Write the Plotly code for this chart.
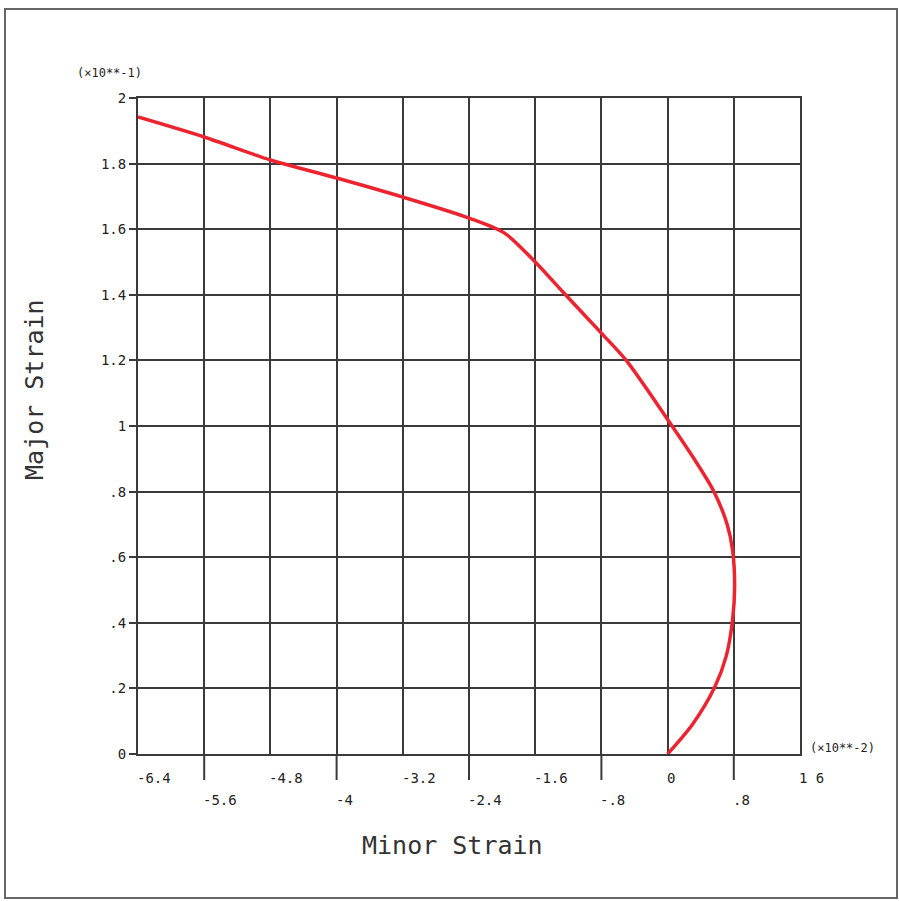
import plotly.graph_objects as go

# Data (minor strain x10^-2, major strain x10^-1)
minor_strain = [0.0, 0.3, 0.57, 0.71, 0.785, 0.81, 0.785, 0.72, 0.55, 0.32, 0.0,
                -0.5, -0.8, -1.27, -1.6, -1.97, -2.4, -3.2, -4.0, -4.8, -5.6, -6.4]
major_strain = [0.0, 0.09, 0.204, 0.3, 0.409, 0.51, 0.622, 0.7, 0.805, 0.9, 1.02,
                1.2, 1.283, 1.41, 1.5, 1.588, 1.634, 1.698, 1.756, 1.811, 1.881, 1.942]

x_ticks = [-6.4, -5.6, -4.8, -4.0, -3.2, -2.4, -1.6, -0.8, 0.0, 0.8, 1.6]
x_tick_labels = ["-6.4", "-5.6", "-4.8", "-4", "-3.2", "-2.4", "-1.6", "-.8", "0", ".8", "1 6"]
y_ticks = [0, 0.2, 0.4, 0.6, 0.8, 1.0, 1.2, 1.4, 1.6, 1.8, 2.0]
y_tick_labels = ["0", ".2", ".4", ".6", ".8", "1", "1.2", "1.4", "1.6", "1.8", "2"]

W, H = 899, 901
L, R, T, B = 138, 99, 98, 147
pw, ph = W - L - R, H - T - B

grid = "#3a3a3a"
font_mono = "DejaVu Sans Mono"

fig = go.Figure()
fig.add_trace(go.Scatter(x=minor_strain, y=major_strain, mode="lines",
                         line=dict(color="#ec2430", width=3.5, shape="spline", smoothing=0.8),
                         hoverinfo="skip", showlegend=False))

annotations = []
shapes = []
for i, (v, lab) in enumerate(zip(x_ticks, x_tick_labels)):
    lower = (i % 2 == 1)
    ypx = 800 if lower else 778
    annotations.append(dict(x=v, xref="x", y=(754 - ypx) / ph, yref="paper",
                            text=lab, showarrow=False, xanchor="left", yanchor="middle",
                            xshift=-3,
                            font=dict(family=font_mono, size=14, color="#222")))
    if lower:
        shapes.append(dict(type="line", xref="x", yref="paper", x0=v, x1=v,
                           y0=0, y1=-26 / ph, line=dict(color=grid, width=2)))

annotations += [
    dict(x=(75 - L) / pw, xref="paper", y=(754 - 73) / ph, yref="paper", text="(×10**-1)",
         showarrow=False, xanchor="left", yanchor="middle",
         font=dict(family=font_mono, size=12, color="#222")),
    dict(x=(808 - L) / pw, xref="paper", y=(754 - 748) / ph, yref="paper", text="(×10**-2)",
         showarrow=False, xanchor="left", yanchor="middle",
         font=dict(family=font_mono, size=12, color="#222")),
    dict(x=(452 - L) / pw, xref="paper", y=(754 - 845) / ph, yref="paper", text="Minor Strain",
         showarrow=False, xanchor="center", yanchor="middle",
         font=dict(family=font_mono, size=25, color="#333")),
    dict(x=(35 - L) / pw, xref="paper", y=(754 - 390) / ph, yref="paper", text="Major Strain",
         showarrow=False, xanchor="center", yanchor="middle", textangle=-90,
         font=dict(family=font_mono, size=25, color="#333")),
]

shapes.append(dict(type="rect", xref="paper", yref="paper",
                   x0=(5 - L) / pw, x1=(897 - L) / pw,
                   y0=(754 - 898) / ph, y1=(754 - 9) / ph,
                   line=dict(color="#666", width=2), layer="below"))

fig.update_layout(
    width=W, height=H,
    margin=dict(l=L, r=R, t=T, b=B, pad=0),
    paper_bgcolor="white", plot_bgcolor="white",
    showlegend=False,
    annotations=annotations, shapes=shapes,
    xaxis=dict(range=[-6.4, 1.6], tickvals=x_ticks, showticklabels=False,
               showgrid=True, gridcolor=grid, gridwidth=2,
               showline=True, linecolor=grid, linewidth=2, mirror=True,
               zeroline=False, ticks=""),
    yaxis=dict(range=[0, 2], tickvals=y_ticks, ticktext=y_tick_labels,
               showgrid=True, gridcolor=grid, gridwidth=2,
               showline=True, linecolor=grid, linewidth=2, mirror=True,
               zeroline=False, ticks="outside", ticklen=7, tickcolor=grid, tickwidth=2,
               tickfont=dict(family=font_mono, size=14, color="#222")),
)

fig.write_html("out.html")
